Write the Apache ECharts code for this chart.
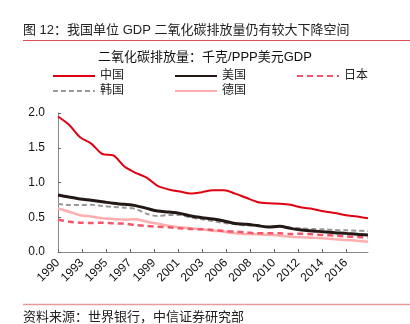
<!DOCTYPE html>
<html>
<head>
<meta charset="utf-8">
<script src="https://cdn.jsdelivr.net/npm/echarts@6/dist/echarts.min.js"></script>
<style>
html,body{margin:0;padding:0;background:#fff;}
#c{width:410px;height:324px;}
</style>
</head>
<body>
<div id="c"></div>
<script>
var years = [1990,1991,1992,1993,1994,1995,1996,1997,1998,1999,2000,2001,2002,2003,2004,2005,2006,2007,2008,2009,2010,2011,2012,2013,2014,2015,2016,2017,2018];
var china   = [1.95,1.83,1.65,1.56,1.41,1.39,1.23,1.14,1.07,0.95,0.90,0.87,0.84,0.86,0.89,0.89,0.84,0.78,0.72,0.70,0.695,0.68,0.64,0.62,0.585,0.56,0.53,0.51,0.485];
var usa     = [0.82,0.79,0.763,0.745,0.724,0.70,0.686,0.667,0.628,0.59,0.575,0.556,0.518,0.494,0.475,0.446,0.41,0.40,0.38,0.36,0.37,0.34,0.317,0.302,0.292,0.278,0.268,0.254,0.245];
var japan   = [0.465,0.436,0.422,0.417,0.422,0.412,0.408,0.389,0.374,0.365,0.355,0.34,0.331,0.326,0.317,0.302,0.292,0.283,0.268,0.268,0.268,0.259,0.264,0.254,0.245,0.235,0.225,0.216,0.206];
var korea   = [0.695,0.676,0.676,0.68,0.662,0.647,0.638,0.619,0.55,0.518,0.532,0.532,0.494,0.47,0.446,0.417,0.40,0.38,0.38,0.365,0.374,0.35,0.34,0.331,0.326,0.317,0.312,0.307,0.302];
var germany = [0.628,0.58,0.53,0.51,0.485,0.475,0.465,0.47,0.436,0.408,0.379,0.355,0.34,0.326,0.307,0.292,0.268,0.259,0.254,0.245,0.235,0.22,0.211,0.206,0.197,0.182,0.173,0.163,0.149];
var xTickLabels = ['1990','1993','1995','1997','1999','2001','2003','2006','2008','2010','2012','2014','2016'];
var yTickLabels = ['0.0','0.5','1.0','1.5','2.0'];
var seriesNames = ['中国','美国','日本','韩国','德国'];

var FONT = "'Liberation Sans','Noto Sans CJK SC',sans-serif";
var xStart = 1990, xEnd = 2018;
var xStep = (Number(xTickLabels[xTickLabels.length-1]) - Number(xTickLabels[0])) / (xTickLabels.length - 1);
var xTickPos = xTickLabels.map(function(_, i){ return xStart + i * xStep; });

function pairs(arr){ return arr.map(function(v, i){ return [years[i], v]; }); }

var chart = echarts.init(document.getElementById('c'), null, {renderer:'canvas'});
var legendBase = {
  itemWidth: 42, itemHeight: 10, itemGap: 50, padding: 0, left: 52,
  itemStyle: {opacity: 0},
  textStyle: {fontSize: 12, color: '#222', fontFamily: FONT}
};
chart.setOption({
  animation: false,
  backgroundColor: '#fff',
  title: [
    {text: '图 12：我国单位 GDP 二氧化碳排放量仍有较大下降空间', left: 23, top: 24, padding: 0,
     textStyle: {fontSize: 13, fontWeight: 'normal', color: '#222', fontFamily: FONT}},
    {text: '二氧化碳排放量：千克/PPP美元GDP', left: 'center', top: 51, padding: 0,
     textStyle: {fontSize: 13, fontWeight: 'normal', color: '#111', fontFamily: FONT}},
    {text: '资料来源：世界银行，中信证券研究部', left: 23, top: 311, padding: 0,
     textStyle: {fontSize: 13, fontWeight: 'normal', color: '#222', fontFamily: FONT}}
  ],
  legend: [
    Object.assign({}, legendBase, {top: 70, data: seriesNames.slice(0,3)}),
    Object.assign({}, legendBase, {top: 85, data: seriesNames.slice(3)})
  ],
  graphic: [
    {type: 'line', shape: {x1: 23, y1: 40.5, x2: 410, y2: 40.5}, style: {stroke: '#e05050', lineWidth: 1}},
    {type: 'line', shape: {x1: 23, y1: 304.5, x2: 410, y2: 304.5}, style: {stroke: '#e89a9a', lineWidth: 1.5}}
  ],
  grid: {left: 58, right: 42, top: 113, bottom: 72, containLabel: false},
  xAxis: {
    type: 'value', min: xStart, max: xEnd,
    splitLine: {show: false},
    axisLine: {lineStyle: {color: '#888', width: 1}},
    axisTick: {show: true, inside: true, length: 3, customValues: xTickPos, lineStyle: {color: '#666'}},
    axisLabel: {
      customValues: xTickPos, rotate: 45, margin: 9, fontSize: 12, color: '#111', fontFamily: FONT,
      formatter: function(v){
        for (var i = 0; i < xTickPos.length; i++) if (Math.abs(xTickPos[i] - v) < 1e-6) return xTickLabels[i];
        return '';
      }
    }
  },
  yAxis: {
    type: 'value', min: 0, max: 2, interval: 0.5,
    splitLine: {show: false},
    axisLine: {show: true, lineStyle: {color: '#888', width: 1}},
    axisTick: {show: true, inside: true, length: 3, lineStyle: {color: '#666'}},
    axisLabel: {fontSize: 12, color: '#111', margin: 13, fontFamily: FONT,
      formatter: function(v){ return yTickLabels[Math.round(v / 0.5)]; }}
  },
  series: [
    {name: seriesNames[0], type: 'line', data: pairs(china), symbol: 'none', smooth: 0.3,
     lineStyle: {color: '#e00012', width: 2}, itemStyle: {color: '#e00012'}, z: 5},
    {name: seriesNames[1], type: 'line', data: pairs(usa), symbol: 'none', smooth: 0.3,
     lineStyle: {color: '#231815', width: 3}, itemStyle: {color: '#231815'}, z: 4},
    {name: seriesNames[2], type: 'line', data: pairs(japan), symbol: 'none', smooth: 0.3,
     lineStyle: {color: '#f5566b', width: 2.5, type: [6, 4]}, itemStyle: {color: '#f5566b'}, z: 3},
    {name: seriesNames[3], type: 'line', data: pairs(korea), symbol: 'none', smooth: 0.3,
     lineStyle: {color: '#999999', width: 2, type: [5, 3]}, itemStyle: {color: '#999999'}, z: 2},
    {name: seriesNames[4], type: 'line', data: pairs(germany), symbol: 'none', smooth: 0.3,
     lineStyle: {color: '#ffadad', width: 2.5}, itemStyle: {color: '#ffadad'}, z: 1}
  ]
});
</script>
</body>
</html>
